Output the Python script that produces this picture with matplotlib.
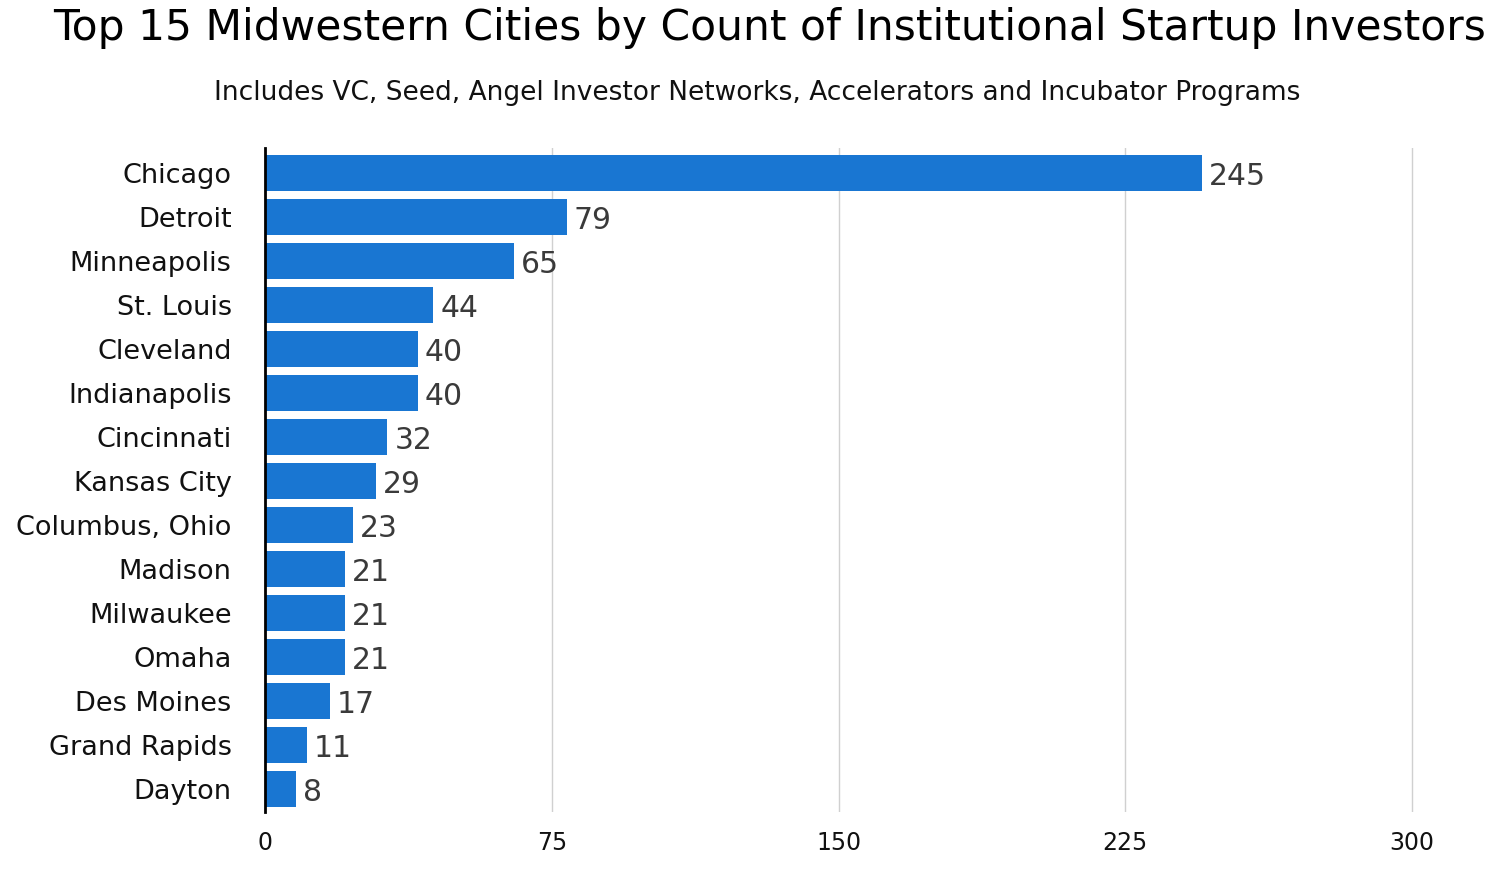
import matplotlib
matplotlib.use('Agg')
import matplotlib.pyplot as plt
import numpy as np

cities = ['Chicago', 'Detroit', 'Minneapolis', 'St. Louis', 'Cleveland',
          'Indianapolis', 'Cincinnati', 'Kansas City', 'Columbus, Ohio',
          'Madison', 'Milwaukee', 'Omaha', 'Des Moines', 'Grand Rapids', 'Dayton']
counts = [245, 79, 65, 44, 40, 40, 32, 29, 23, 21, 21, 21, 17, 11, 8]
xticks = [0, 75, 150, 225, 300]

plt.rcParams['font.family'] = ['DejaVu Sans']

fig = plt.figure(figsize=(15, 8.8), dpi=100)
# axes a touch wider than 300 so the last gridline is not clipped
ax = fig.add_axes([0.1767, 0.0773, 0.9439 - 0.1767, 0.8318 - 0.0773])

y_pos = np.arange(len(cities))
ax.barh(y_pos, counts, height=0.82, color='#1976D2', zorder=3)

# value labels to the right of each bar
for y, v in zip(y_pos, counts):
    ax.text(v + 1.8, y, str(v), va='center_baseline', ha='left', fontsize=21.5,
            color='#3a3a3a', zorder=4)

ax.set_yticks(y_pos)
ax.set_yticklabels(cities, fontsize=19.5, color='#111111')
ax.set_ylim(len(cities) - 0.48, -0.57)
ax.set_xlim(0, 301)
ax.set_xticks(xticks)
ax.set_xticklabels([str(t) for t in xticks], fontsize=17, color='#111111')
ax.tick_params(axis='both', length=0)
ax.tick_params(axis='x', pad=14)
ax.tick_params(axis='y', pad=24)

ax.grid(axis='x', color='#d0d0d0', linewidth=1, zorder=0)
for side in ['top', 'right', 'bottom']:
    ax.spines[side].set_visible(False)
ax.spines['left'].set_linewidth(2)
ax.spines['left'].set_color('black')
ax.spines['left'].set_zorder(5)

fig.text(0.513, 0.968, 'Top 15 Midwestern Cities by Count of Institutional Startup Investors',
         ha='center', va='center', fontsize=30.5, color='black')
fig.text(0.505, 0.894, 'Includes VC, Seed, Angel Investor Networks, Accelerators and Incubator Programs',
         ha='center', va='center', fontsize=19, color='#111111')

fig.savefig('out.png', dpi=100)
